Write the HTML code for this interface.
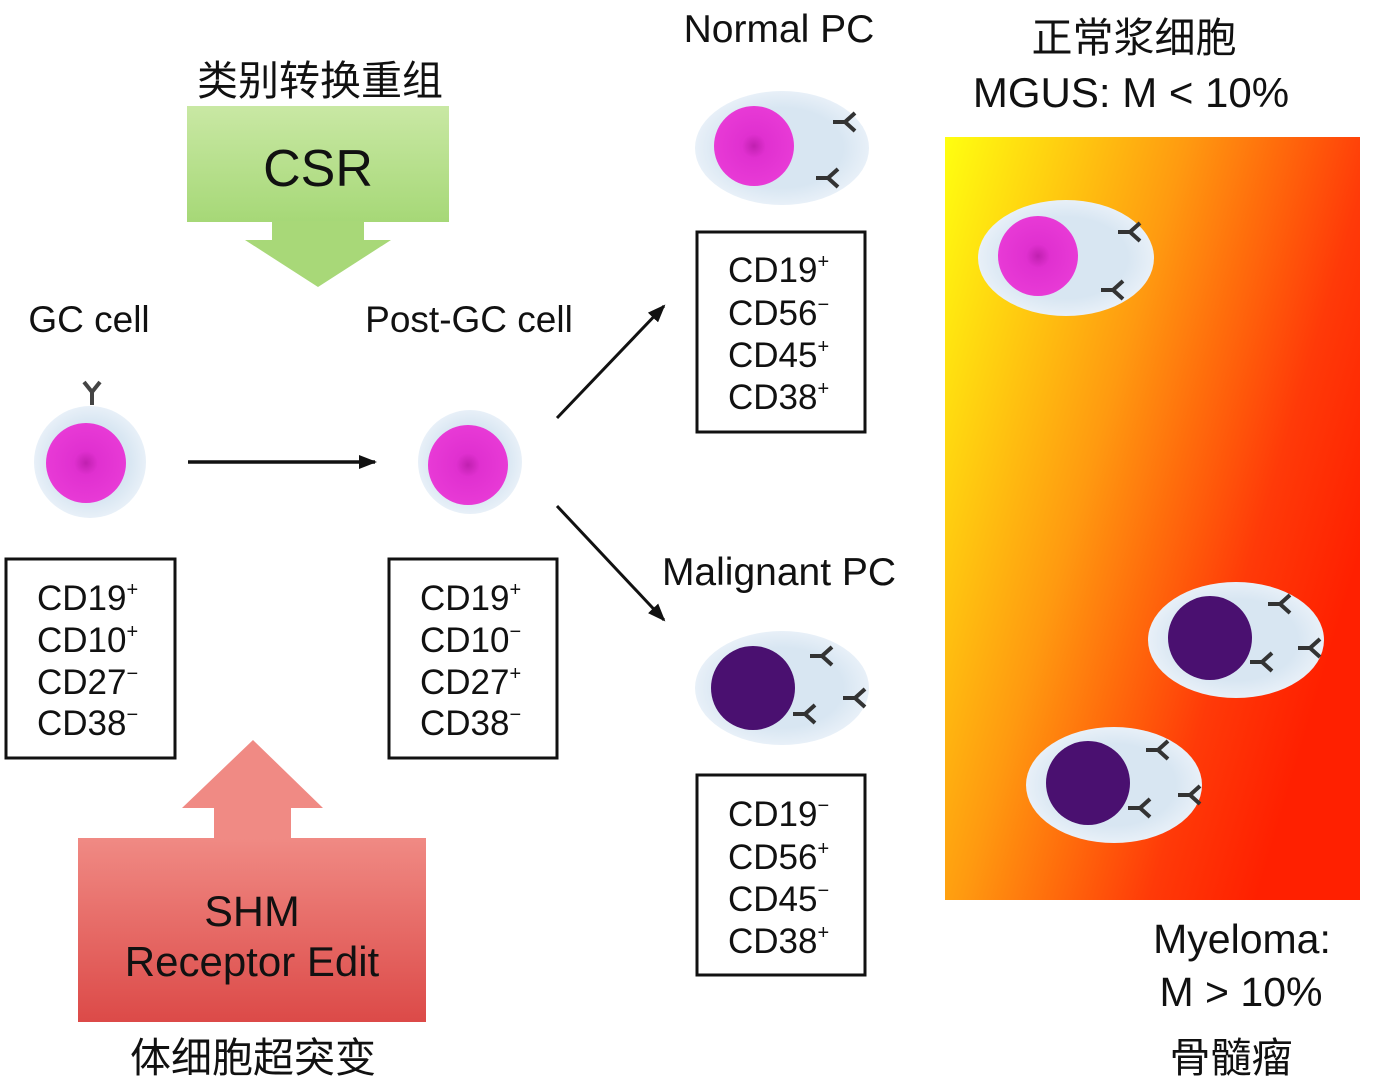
<!DOCTYPE html>
<html><head><meta charset="utf-8"><style>
html,body{margin:0;padding:0;background:#fff;}
svg{display:block;}
text{font-family:"Liberation Sans","Noto Sans CJK SC",sans-serif;fill:#111;}
</style></head><body>
<svg width="1386" height="1092" viewBox="0 0 1386 1092" xmlns="http://www.w3.org/2000/svg">
<defs>
<linearGradient id="g" x1="0" y1="0" x2="1" y2="0.55">
<stop offset="0" stop-color="#ffff10"/>
<stop offset="0.45" stop-color="#ff9a10"/>
<stop offset="0.8" stop-color="#ff3a08"/>
<stop offset="1" stop-color="#ff2000"/>
</linearGradient>
<linearGradient id="gr" x1="0" y1="0" x2="0" y2="1">
<stop offset="0" stop-color="#c9e8a4"/><stop offset="1" stop-color="#a6d877"/>
</linearGradient>
<linearGradient id="rd" x1="0" y1="0" x2="0" y2="1">
<stop offset="0" stop-color="#f08a84"/><stop offset="1" stop-color="#dc4a48"/>
</linearGradient>
<radialGradient id="mag"><stop offset="0" stop-color="#c020b0"/><stop offset="0.3" stop-color="#e030d0"/><stop offset="1" stop-color="#e83ad6"/></radialGradient>
<radialGradient id="bl"><stop offset="0.7" stop-color="#d8e6f2"/><stop offset="1" stop-color="#e8f0f8"/></radialGradient>
<marker id="ah" markerWidth="18" markerHeight="14" refX="16" refY="7" orient="auto" markerUnits="userSpaceOnUse"><path d="M0,0 L18,7 L0,14 z" fill="#111"/></marker>
<g id="ab"><path d="M-12,0 L0,0 M0,0 L10,-9 M0,0 L10,9" stroke="#333" stroke-width="4" fill="none"/></g>
</defs>

<text x="320" y="95" font-size="41" text-anchor="middle">类别转换重组</text>
<rect x="187" y="106" width="262" height="116" fill="url(#gr)"/>
<text x="318" y="186" font-size="52" text-anchor="middle">CSR</text>
<path d="M272,221 H364 V240 H391 L318,287 L245,240 H272 Z" fill="#a8d878"/>

<text x="89" y="332" font-size="37" text-anchor="middle">GC cell</text>
<text x="469" y="332" font-size="37" text-anchor="middle">Post-GC cell</text>

<circle cx="90" cy="462" r="56" fill="url(#bl)"/>
<circle cx="86" cy="463" r="40" fill="url(#mag)"/>
<path d="M92,405 V392 M92,392 L84,382 M92,392 L100,382" stroke="#444" stroke-width="4" fill="none"/>
<line x1="188" y1="462" x2="375" y2="462" stroke="#111" stroke-width="3.5" marker-end="url(#ah)"/>
<circle cx="470" cy="462" r="52" fill="url(#bl)"/>
<circle cx="468" cy="465" r="40" fill="url(#mag)"/>

<line x1="557" y1="418" x2="664" y2="306" stroke="#111" stroke-width="3" marker-end="url(#ah)"/>
<line x1="557" y1="506" x2="664" y2="620" stroke="#111" stroke-width="3" marker-end="url(#ah)"/>

<g font-size="35">
<rect x="6" y="559" width="169" height="199" fill="none" stroke="#111" stroke-width="3"/>
<text x="37" y="610">CD19<tspan dy="-14" font-size="20">+</tspan></text>
<text x="37" y="652">CD10<tspan dy="-14" font-size="20">+</tspan></text>
<text x="37" y="694">CD27<tspan dy="-14" font-size="20">−</tspan></text>
<text x="37" y="735">CD38<tspan dy="-14" font-size="20">−</tspan></text>
<rect x="389" y="559" width="168" height="199" fill="none" stroke="#111" stroke-width="3"/>
<text x="420" y="610">CD19<tspan dy="-14" font-size="20">+</tspan></text>
<text x="420" y="652">CD10<tspan dy="-14" font-size="20">−</tspan></text>
<text x="420" y="694">CD27<tspan dy="-14" font-size="20">+</tspan></text>
<text x="420" y="735">CD38<tspan dy="-14" font-size="20">−</tspan></text>
<rect x="697" y="232" width="168" height="200" fill="none" stroke="#111" stroke-width="3"/>
<text x="728" y="282">CD19<tspan dy="-14" font-size="20">+</tspan></text>
<text x="728" y="325">CD56<tspan dy="-14" font-size="20">−</tspan></text>
<text x="728" y="367">CD45<tspan dy="-14" font-size="20">+</tspan></text>
<text x="728" y="409">CD38<tspan dy="-14" font-size="20">+</tspan></text>
<rect x="697" y="775" width="168" height="200" fill="none" stroke="#111" stroke-width="3"/>
<text x="728" y="826">CD19<tspan dy="-14" font-size="20">−</tspan></text>
<text x="728" y="869">CD56<tspan dy="-14" font-size="20">+</tspan></text>
<text x="728" y="911">CD45<tspan dy="-14" font-size="20">−</tspan></text>
<text x="728" y="953">CD38<tspan dy="-14" font-size="20">+</tspan></text>
</g>

<path d="M253,740 L323,808 H291 V840 H214 V808 H182 Z" fill="#f08a84"/>
<rect x="78" y="838" width="348" height="184" fill="url(#rd)"/>
<text x="252" y="926" font-size="43" text-anchor="middle">SHM</text>
<text x="252" y="976" font-size="42" text-anchor="middle">Receptor Edit</text>
<text x="253" y="1072" font-size="41" text-anchor="middle">体细胞超突变</text>

<text x="779" y="42" font-size="39" text-anchor="middle">Normal PC</text>
<ellipse cx="782" cy="148" rx="87" ry="57" fill="url(#bl)"/>
<circle cx="754" cy="146" r="40" fill="url(#mag)"/>
<use href="#ab" transform="translate(845,122)"/>
<use href="#ab" transform="translate(828,178)"/>

<text x="779" y="585" font-size="39" text-anchor="middle">Malignant PC</text>
<ellipse cx="782" cy="688" rx="87" ry="57" fill="url(#bl)"/>
<circle cx="753" cy="688" r="42" fill="#4a1070"/>
<use href="#ab" transform="translate(822,656)"/>
<use href="#ab" transform="translate(855,698)"/>
<use href="#ab" transform="translate(805,714)"/>

<rect x="945" y="137" width="415" height="763" fill="url(#g)"/>
<ellipse cx="1066" cy="258" rx="88" ry="58" fill="url(#bl)"/>
<circle cx="1038" cy="256" r="40" fill="url(#mag)"/>
<use href="#ab" transform="translate(1130,232)"/>
<use href="#ab" transform="translate(1113,290)"/>
<ellipse cx="1236" cy="640" rx="88" ry="58" fill="url(#bl)"/>
<circle cx="1210" cy="638" r="42" fill="#4a1070"/>
<use href="#ab" transform="translate(1280,604)"/>
<use href="#ab" transform="translate(1310,648)"/>
<use href="#ab" transform="translate(1262,662)"/>
<ellipse cx="1114" cy="785" rx="88" ry="58" fill="url(#bl)"/>
<circle cx="1088" cy="783" r="42" fill="#4a1070"/>
<use href="#ab" transform="translate(1158,750)"/>
<use href="#ab" transform="translate(1190,795)"/>
<use href="#ab" transform="translate(1140,808)"/>

<text x="1134" y="52" font-size="41" text-anchor="middle">正常浆细胞</text>
<text x="1131" y="107" font-size="42" text-anchor="middle">MGUS: M &lt; 10%</text>
<text x="1242" y="953" font-size="41" text-anchor="middle">Myeloma:</text>
<text x="1241" y="1006" font-size="41" text-anchor="middle">M &gt; 10%</text>
<text x="1231" y="1072" font-size="41" text-anchor="middle">骨髓瘤</text>
</svg>
</body></html>
